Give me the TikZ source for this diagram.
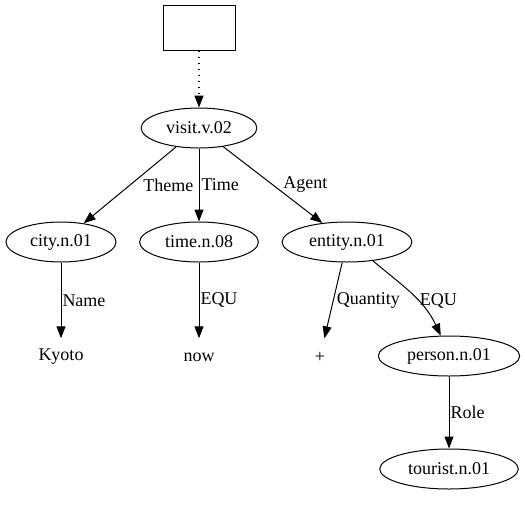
\documentclass[tikz,border=0pt]{standalone}
\usepackage{fontspec}
\setmainfont{Liberation Serif}
\usetikzlibrary{shapes.geometric, arrows.meta, positioning}

\begin{document}
\begin{tikzpicture}[
    x=1pt, y=1pt,
    every node/.style={font=\fontsize{18}{21}\selectfont},
    sense/.style={draw, ellipse, line width=1pt, minimum height=40pt, inner xsep=8pt, inner ysep=0pt},
    word/.style={minimum width=54pt, minimum height=37pt, inner sep=0pt},
    lbl/.style={inner sep=1pt},
    link/.style={draw, line width=1pt, -{Triangle[length=12pt, width=9pt]}}
]
\useasboundingbox (0,0) rectangle (525,-504);
\node[draw, line width=1pt, minimum width=72pt, minimum height=45pt] (top) at (199,-27.5) {};
\node[sense] (visit)   at (199,-128) {visit.v.02};
\node[sense] (city)    at (61,-242)  {city.n.01};
\node[sense] (time)    at (199,-242) {time.n.08};
\node[sense] (entity)  at (347,-242) {entity.n.01};
\node[word]  (kyoto)   at (61,-357)  {Kyoto};
\node[word]  (now)     at (199,-357) {now};
\node[word]  (plus)    at (320,-357) {+};
\node[sense] (person)  at (449,-356) {person.n.01};
\node[sense] (tourist) at (449,-469) {tourist.n.01};
\draw[link, line width=1.3pt, dash pattern=on 1.5pt off 4.5pt] (top) -- (visit);
\draw[link] (visit) -- node[lbl, right=12pt]{Theme} (city);
\draw[link] (visit) -- node[lbl, right=1pt]{Time} (time);
\draw[link] (visit) -- node[lbl, right=9pt]{Agent} (entity);
\draw[link] (city) -- node[lbl, right=0pt]{Name} (kyoto);
\draw[link] (time) -- node[lbl, right=0pt]{EQU} (now);
\draw[link] (entity) -- node[lbl, right=2pt]{Quantity} (plus);
\draw[link] (entity.-36) to[out=-40, in=115] node[lbl, pos=0.6, right=0pt]{EQU} (person.112);
\draw[link] (person) -- node[lbl, right=0pt]{Role} (tourist);
\end{tikzpicture}
\end{document}
